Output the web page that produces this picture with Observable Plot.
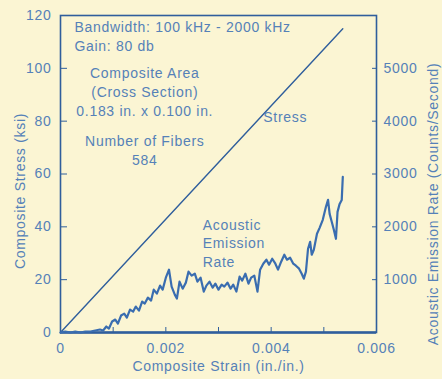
<!DOCTYPE html>
<html>
<head>
<meta charset="utf-8">
<script src="https://cdn.jsdelivr.net/npm/d3@7"></script>
<script src="https://cdn.jsdelivr.net/npm/@observablehq/plot@0.6"></script>
<style>
  html, body { margin: 0; padding: 0; background: #fbf5d3; }
  #chart { width: 442px; height: 379px; overflow: hidden; }
</style>
</head>
<body>
<div id="chart"></div>
<script>
// Stress–strain line (composite stress, ksi)
const stressStrain = [0, 0.00536];
const stressKsi = [0, 115];

// Acoustic emission rate (counts/second) vs composite strain (in./in.)
const aeStrain = [
  0, 0.00009, 0.00019, 0.00028, 0.00038, 0.00047, 0.00057, 0.00066, 0.00075, 0.00081,
  0.00087, 0.00092, 0.00098, 0.00104, 0.00109, 0.00115, 0.00121, 0.00126, 0.00132, 0.00138,
  0.00143, 0.00149, 0.00155, 0.00160, 0.00166, 0.00172, 0.00177, 0.00183, 0.00189, 0.00194,
  0.00200, 0.00206, 0.00211, 0.00217, 0.00221, 0.00226, 0.00232, 0.00238, 0.00243, 0.00249,
  0.00255, 0.00260, 0.00266, 0.00272, 0.00277, 0.00283, 0.00289, 0.00294, 0.00300, 0.00306,
  0.00311, 0.00317, 0.00323, 0.00328, 0.00334, 0.00340, 0.00345, 0.00351, 0.00357, 0.00362,
  0.00368, 0.00374, 0.00379, 0.00385, 0.00391, 0.00396, 0.00402, 0.00408, 0.00413, 0.00419,
  0.00425, 0.00430, 0.00436, 0.00442, 0.00447, 0.00453, 0.00458, 0.00462, 0.00466, 0.00470,
  0.00474, 0.00477, 0.00481, 0.00487, 0.00492, 0.00498, 0.00504, 0.00508, 0.00511, 0.00515,
  0.00519, 0.00523, 0.00526, 0.00530, 0.00534, 0.00536
];
const aeRate = [
  0, 19, 0, 19, 0, 19, 19, 38, 57, 38,
  113, 75, 208, 245, 170, 321, 358, 283, 434, 396,
  491, 415, 585, 547, 660, 604, 811, 736, 887, 811,
  1038, 1189, 868, 717, 642, 962, 830, 944, 1151, 1076,
  1113, 962, 1038, 774, 887, 962, 849, 925, 811, 906,
  868, 944, 830, 906, 774, 1057, 981, 1113, 925, 1038,
  1076, 774, 1189, 1302, 1378, 1283, 1396, 1302, 1189, 1340,
  1472, 1378, 1415, 1302, 1264, 1208, 1113, 1019, 1151, 1585,
  1717, 1472, 1566, 1868, 1981, 2132, 2378, 2510, 2245, 2095,
  1944, 1774, 2283, 2434, 2510, 2944
];

// Axis ticks
const stressTicks = [0, 20, 40, 60, 80, 100, 120];
const rateTicks = [1000, 2000, 3000, 4000, 5000];
const strainTickMarks = [0.001, 0.002, 0.003, 0.004, 0.005];
const strainTickLabels = [0, 0.002, 0.004, 0.006];

// Annotation text
const notesLeft = ["Bandwidth: 100 kHz - 2000 kHz", "Gain: 80 db"];
const notesCenter = ["Composite Area", "(Cross Section)", "0.183 in. x 0.100 in.", "Number of Fibers", "584"];
const aeLabel = ["Acoustic", "Emission", "Rate"];

const RATIO = 50; // counts/second per ksi on the shared vertical scale
const LINE = "#2f5e9c";
const TEXT = "#5581b8";
const FONT = "'Liberation Sans', Arial, sans-serif";
const LS = "0.7px";

const stressData = stressStrain.map((s, i) => ({strain: s, stress: stressKsi[i]}));
const aeData = aeStrain.map((s, i) => ({strain: s, rate: aeRate[i]}));

const chart = Plot.plot({
  width: 442,
  height: 379,
  marginLeft: 60,
  marginRight: 66,
  marginTop: 15,
  marginBottom: 47,
  style: {background: "#fbf5d3", fontFamily: FONT, fontSize: "14px", color: TEXT, letterSpacing: LS},
  x: {domain: [0, 0.006]},
  y: {domain: [0, 120]},
  marks: [
    Plot.frame({stroke: LINE, strokeWidth: 1.6}),
    Plot.ruleY([0], {stroke: LINE, strokeWidth: 2.4}),
    // left axis: inward ticks
    Plot.axisY({anchor: "left", ticks: stressTicks, tickSize: -7, tickPadding: 16, stroke: LINE, fill: TEXT, fontSize: 14, label: null, tickFormat: d => String(d)}),
    // right axis: counts/second = ksi * 50
    Plot.axisY({anchor: "right", ticks: rateTicks.map(r => r / RATIO), tickSize: -5, tickPadding: 12, stroke: LINE, fill: TEXT, fontSize: 14, label: null, tickFormat: d => String(d * RATIO)}),
    // bottom axis: inward tick marks every 0.001, labels every 0.002
    Plot.axisX({anchor: "bottom", ticks: strainTickMarks, tickSize: -5, tickPadding: 0, stroke: LINE, text: null, label: null}),
    Plot.axisX({anchor: "bottom", ticks: strainTickLabels, tickSize: 0, tickPadding: 11, fill: TEXT, fontSize: 14, label: null, tickFormat: d => d === 0 ? "0" : d3.format(".3f")(d)}),
    // data
    Plot.line(stressData, {x: "strain", y: "stress", stroke: LINE, strokeWidth: 1.4}),
    Plot.line(aeData, {x: "strain", y: d => d.rate / RATIO, stroke: "#3a6db0", strokeWidth: 2.2, strokeLinejoin: "round"}),
    // annotations
    Plot.text(notesLeft, {x: 0.000264, y: [115.5, 108.2], text: d => d, textAnchor: "start", fill: TEXT, fontSize: 14}),
    Plot.text(notesCenter, {x: 0.0016, y: [98, 90.8, 83.6, 72.2, 65], text: d => d, fill: TEXT, fontSize: 14}),
    Plot.text(["Stress"], {x: 0.00385, y: 81.3, text: d => d, textAnchor: "start", fill: TEXT, fontSize: 14}),
    Plot.text(aeLabel, {x: 0.0027, y: [40.6, 33.8, 26.6], text: d => d, textAnchor: "start", fill: TEXT, fontSize: 14}),
    // axis titles
    Plot.text(["Composite Stress (ksi)"], {frameAnchor: "left", textAnchor: "middle", dx: -40, dy: 17, rotate: -90, fill: TEXT, fontSize: 14}),
    Plot.text(["Acoustic Emission Rate (Counts/Second)"], {frameAnchor: "right", textAnchor: "middle", dx: 57, dy: 30, rotate: -90, fill: TEXT, fontSize: 14}),
    Plot.text(["Composite Strain (in./in.)"], {frameAnchor: "bottom", textAnchor: "middle", dy: 38, fill: TEXT, fontSize: 14})
  ]
});
document.getElementById("chart").appendChild(chart);
</script>
</body>
</html>
